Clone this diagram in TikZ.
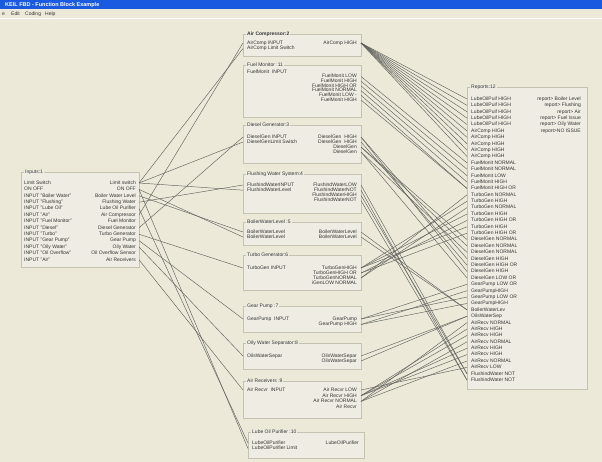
\documentclass[tikz,border=0pt]{standalone}
\usepackage{fontspec}
\setmainfont{Liberation Sans}
\definecolor{bg}{HTML}{ECE9D8}
\definecolor{boxfill}{HTML}{EFEDE3}
\definecolor{boxline}{HTML}{C6C2B1}
\definecolor{wirec}{HTML}{62625F}
\definecolor{txt}{HTML}{333333}
\definecolor{tbar}{HTML}{1A5AE0}
\tikzset{
  grp/.style={draw=boxline, fill=boxfill, line width=0.6pt, inner sep=0pt, anchor=north west},
  lbl/.style={inner sep=0pt, text=txt, font=\fontsize{5}{6}\selectfont, text height=3.6pt, text depth=0.9pt},
  lw/.style={lbl, anchor=west},
  le/.style={lbl, anchor=east},
  gtitle/.style={lbl, anchor=west, fill=boxfill, inner xsep=1pt},
  wire/.style={draw=wirec, line width=0.45pt},
}
\newcommand{\mkbox}[6]{%
  \node[grp, minimum width={(#4-#2)*1pt}, minimum height={(#5-#3)*1pt}] (#1) at (#2,#3) {};
  \node[gtitle] (#1t) at (#2+3,#3) {#6};}
\begin{document}
\begin{tikzpicture}[x=1pt,y=-1pt]
\useasboundingbox (0,0) rectangle (602,462);
\fill[bg] (0,0) rectangle (602,462);
% window title and menu
\fill[tbar] (0,0) rectangle (602,9.5);
\node[anchor=west, inner sep=0pt, text=white, font=\bfseries\fontsize{5.5}{6}\selectfont] (wintitle) at (5,4.8) {KEIL FBD - Function Block Example};
\node[lw] (mfile) at (2,14) {e};
\node[lw] (medit) at (11,14) {Edit};
\node[lw] (mcoding) at (25,14) {Coding};
\node[lw] (mhelp) at (45,14) {Help};
\draw[white, line width=0.6pt] (0,18.5) -- (602,18.5);

% ---------- Inputs:1 ----------
\mkbox{bin}{21}{172}{139}{267}{Inputs:1}
\foreach \t [count=\i] in {Limit Switch,ON  OFF,INPUT "Boiler Water",INPUT "Flushing",INPUT "Lube Oil",INPUT "Air",INPUT "Fuel Monitor",INPUT "Diesel",INPUT "Turbo",INPUT "Gear Pump",INPUT "Oily Water",INPUT "Oil Overflow",INPUT "Air"}{
  \node[lw] (inL\i) at (24,{183+6.4*(\i-1)}) {\t};
}
\foreach \t [count=\i] in {Limit switch,ON  OFF,Boiler Water Level,Flushing Water,Lube Oil Purifier,Air Compressor,Fuel Monitor,Diesel Generator,Turbo Generator,Gear Pump,Oily Water,Oil Overflow Sensor,Air Receivers}{
  \node[le] (inR\i) at (136,{183+6.4*(\i-1)}) {\t};
  \coordinate (ip\i) at (139,{183+6.4*(\i-1)});
}

% ---------- middle blocks ----------
\mkbox{bac}{243}{34}{361}{56}{\bfseries Air Compressor:2}
\node[lw] (acL1) at (247,43) {AirComp INPUT};
\node[lw] (acL2) at (247,48.5) {AirComp Limit Switch};
\node[le] (acR1) at (357,43) {AirComp HIGH};
\coordinate (acI1) at (243,43); \coordinate (acI2) at (243,48.5);
\coordinate (acO1) at (361,43);

\mkbox{bfm}{243}{65}{361}{117}{Fuel Monitor :11}
\node[lw] (fmL1) at (247,72) {FuelMonit \ INPUT};
\coordinate (fmI1) at (243,72);
\foreach \t [count=\i] in {FuelMonit LOW,FuelMonit HIGH,FuelMonit HIGH OR,FuelMonit NORMAL,FuelMonit LOW -,FuelMonit HIGH}{
  \node[le] (fmR\i) at (357,{76.5+4.7*(\i-1)}) {\t};
  \coordinate (fmO\i) at (361,{76.5+4.7*(\i-1)});
}

\mkbox{bdg}{243}{125}{361}{163}{Diesel Generator:3}
\node[lw] (dgL1) at (247,137) {DieselGen INPUT};
\node[lw] (dgL2) at (247,142) {DieselGenLimit Switch};
\coordinate (dgI1) at (243,137); \coordinate (dgI2) at (243,142);
\foreach \t [count=\i] in {DieselGen \ HIGH,DieselGen \ HIGH,DieselGen,DieselGen}{
  \node[le] (dgR\i) at (357,{137+5*(\i-1)}) {\t};
  \coordinate (dgO\i) at (361,{137+5*(\i-1)});
}

\mkbox{bfw}{243}{174}{361}{213}{Flushing Water System:4}
\node[lw] (fwL1) at (247,185) {FlushindWaterINPUT};
\node[lw] (fwL2) at (247,190.2) {FlushindWaterLevel};
\coordinate (fwI1) at (243,185); \coordinate (fwI2) at (243,190.2);
\foreach \t [count=\i] in {FlushindWaterLOW,FlushindWaterNOT,FlushindWaterHIGH,FlushindWaterNOT}{
  \node[le] (fwR\i) at (357,{185+5.2*(\i-1)}) {\t};
  \coordinate (fwO\i) at (361,{185+5.2*(\i-1)});
}

\mkbox{bbw}{243}{222}{361}{245}{BoilerWaterLevel :5}
\foreach \i in {1,2}{
  \node[lw] (bwL\i) at (247,{232+5*(\i-1)}) {BoilerWaterLevel};
  \node[le] (bwR\i) at (357,{232+5*(\i-1)}) {BoilerWaterLevel};
  \coordinate (bwI\i) at (243,{232+5*(\i-1)});
  \coordinate (bwO\i) at (361,{232+5*(\i-1)});
}

\mkbox{btg}{243}{255}{361}{290}{Turbo Generator:6}
\node[lw] (tgL1) at (247,268) {TurboGen INPUT};
\coordinate (tgI1) at (243,268);
\foreach \t [count=\i] in {TurboGenHIGH,TurboGenHIGH OR,TurboGenNORMAL,iGenLOW NORMAL}{
  \node[le] (tgR\i) at (357,{268+5*(\i-1)}) {\t};
  \coordinate (tgO\i) at (361,{268+5*(\i-1)});
}

\mkbox{bgp}{243}{306}{361}{332}{Gear Pump :7}
\node[lw] (gpL1) at (247,319) {GearPump \ INPUT};
\coordinate (gpI1) at (243,319);
\node[le] (gpR1) at (357,319) {GearPump};
\node[le] (gpR2) at (357,324.5) {GearPump HIGH};
\coordinate (gpO1) at (361,319); \coordinate (gpO2) at (361,324.5);

\mkbox{bow}{243}{343}{361}{369}{Oily Water Separator:8}
\node[lw] (owL1) at (247,356) {OilsWaterSepar};
\coordinate (owI1) at (243,356);
\node[le] (owR1) at (357,356) {OilsWaterSepar};
\node[le] (owR2) at (357,361) {OilsWaterSepar};
\coordinate (owO1) at (361,356); \coordinate (owO2) at (361,361);

\mkbox{bar}{243}{381}{361}{418}{Air Receivers :9}
\node[lw] (arL1) at (247,390) {Air Recvr \ INPUT};
\coordinate (arI1) at (243,390);
\foreach \t [count=\i] in {Air Recvr LOW,Air Recvr HIGH,Air Recvr NORMAL,Air Recvr}{
  \node[le] (arR\i) at (357,{390+5.7*(\i-1)}) {\t};
  \coordinate (arO\i) at (361,{390+5.7*(\i-1)});
}

\mkbox{blo}{248}{432}{364}{458}{Lube Oil Purifier :10}
\node[lw] (loL1) at (252,443) {LubeOilPurifier};
\node[lw] (loL2) at (252,448.5) {LubeOilPurifier Limit};
\node[le] (loR1) at (359,443) {LubeOilPurifier};
\coordinate (loI1) at (248,443); \coordinate (loI2) at (248,448.5);
\coordinate (loO1) at (364,443);

% ---------- Reports:12 ----------
\mkbox{brp}{467}{87}{587}{389}{Reports:12}
\foreach \t [count=\i] in {LubeOilPuif HIGH,LubeOilPuif HIGH,LubeOilPuif HIGH,LubeOilPuif HIGH,LubeOilPuif HIGH,AirComp HIGH,AirComp HIGH,AirComp HIGH,AirComp HIGH,AirComp HIGH,FuelMonit NORMAL,FuelMonit NORMAL,FuelMonit LOW,FuelMonit HIGH,FuelMonit HIGH OR,TurboGen NORMAL,TurboGen HIGH,TurboGen NORMAL,TurboGen HIGH,TurboGen HIGH OR,TurboGen HIGH,TurboGen HIGH OR,DieselGen NORMAL,DieselGen NORMAL,DieselGen NORMAL,DieselGen HIGH,DieselGen HIGH OR,DieselGen HIGH,DieselGen LOW OR,GearPump LOW OR,GearPumpHIGH,GearPump LOW OR,GearPumpHIGH,BoilerWaterLev,OilsWaterSep,AirRecv NORMAL,AirRecv HIGH,AirRecv HIGH,AirRecv NORMAL,AirRecv HIGH,AirRecv HIGH,AirRecv NORMAL,AirRecv LOW,FlushindWater NOT,FlushindWater NOT}{
  \node[lw] (rl\i) at (471,{99+6.39*(\i-1)}) {\t};
  \coordinate (rp\i) at (467,{99+6.39*(\i-1)});
}
\foreach \t [count=\i] in {report> Boiler Level,report> Flushing,report> Air,report> Fuel Issue,report> Oily Water,report>NO ISSUE}{
  \node[le] (rr\i) at (581,{99+6.39*(\i-1)}) {\t};
}

% ---------- wires: inputs -> blocks ----------
\foreach \a/\b in {ip1/acI2,ip6/acI1,ip1/dgI2,ip8/dgI1,ip4/fwI1,ip1/fwI2,ip3/bwI1,ip2/bwI2,ip9/tgI1,ip10/gpI1,ip11/owI1,ip13/arI1,ip5/loI1,ip2/loI2}{
  \draw[wire] (\a) -- (\b);
}
% ---------- wires: blocks -> reports ----------
\foreach \a/\b in {acO1/rp1,acO1/rp2,acO1/rp3,acO1/rp4,acO1/rp5,acO1/rp6,acO1/rp7,acO1/rp8,acO1/rp9,acO1/rp10,
  fmO1/rp11,fmO2/rp12,fmO3/rp13,fmO4/rp14,fmO5/rp15,fmO6/rp15,
  dgO1/rp26,dgO1/rp28,dgO2/rp27,dgO3/rp23,dgO3/rp24,dgO4/rp25,dgO4/rp29,
  fwO1/rp44,fwO2/rp45,fwO3/rp44,fwO4/rp45,
  bwO1/rp34,bwO2/rp34,
  tgO1/rp17,tgO1/rp19,tgO1/rp21,tgO2/rp20,tgO2/rp22,tgO3/rp16,tgO3/rp18,
  gpO1/rp30,gpO1/rp32,gpO2/rp31,gpO2/rp33,
  owO1/rp35,owO2/rp35,
  arO1/rp43,arO2/rp37,arO2/rp38,arO2/rp40,arO2/rp41,arO3/rp36,arO3/rp39,arO3/rp42}{
  \draw[wire] (\a) -- (\b);
}
\end{tikzpicture}
\end{document}
